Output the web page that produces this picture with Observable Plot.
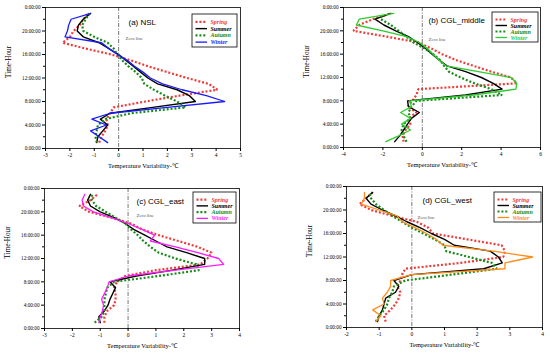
<!DOCTYPE html>
<html><head><meta charset="utf-8">
<script src="https://cdn.jsdelivr.net/npm/d3@7"></script>
<script src="https://cdn.jsdelivr.net/npm/@observablehq/plot@0.6"></script>
<style>
body{margin:0;background:#fff;}
#root{position:relative;width:550px;height:354px;overflow:hidden;background:#fff;}
#root svg{position:absolute;}
</style></head><body><div id="root"></div>
<script>
// ---- data ----
const hours = [1,2,3,4,5,6,7,8,9,10,11,12,13,14,15,16,17,18,19,20,21,22,23];
const yTicks = [0,4,8,12,16,20,24];
const yMinor = [2,6,10,14,18,22];
const seasons = ["Spring","Summer","Autumn","Winter"];
const panelTitles = ["(a) NSL","(b) CGL_middle","(c) CGL_east","(d) CGL_west"];
const xTicksA = [-3,-2,-1,0,1,2,3,4,5];
const xTicksB = [-4,-2,0,2,4,6];
const xTicksC = [-3,-2,-1,0,1,2,3,4];
const xTicksD = [-2,-1,0,1,2,3,4];

const nslSpring = [-0.8,-0.7,-0.55,-0.45,-0.5,-0.35,-0.2,1.1,2.5,4.05,3.7,2.8,2.0,1.2,0.5,-0.3,-1.35,-2.3,-2.0,-1.85,-1.6,-1.45,-1.25];
const nslSummer = [-0.9,-0.85,-0.65,-0.45,-0.75,-0.35,1.4,3.15,2.9,2.4,1.6,1.2,0.9,0.6,0.3,0.0,-0.4,-0.8,-1.45,-1.7,-1.65,-1.45,-1.15];
const nslAutumn = [-0.9,-0.95,-0.9,-0.85,-0.55,0.5,2.75,2.4,1.9,1.45,1.05,0.95,0.7,0.4,0.15,-0.05,-0.2,-0.45,-1.0,-1.45,-1.5,-1.35,-1.2];
const nslWinter = [-0.45,-0.8,-1.15,-0.5,-1.1,-0.35,2.0,4.35,3.6,2.6,1.8,1.3,1.0,0.65,0.35,-0.05,-0.4,-0.7,-2.2,-2.1,-2.05,-1.95,-1.15];

const midSpring = [-0.95,-1.0,-0.85,-0.6,-0.7,-0.3,-0.75,-0.5,-0.3,-0.2,4.8,4.5,3.5,2.6,1.7,1.0,0.45,-0.2,-1.8,-3.5,-3.2,-2.5,-1.6];
const midSummer = [-1.4,-1.15,-0.95,-0.75,-0.55,-0.15,-0.7,-0.75,2.2,4.05,3.6,3.0,2.2,1.25,0.85,0.5,0.15,-0.25,-0.7,-1.35,-1.95,-2.4,-1.6];
const midAutumn = [-0.8,-0.95,-1.05,-0.95,-0.6,-0.7,-0.55,-0.3,4.05,3.5,2.65,1.95,1.35,1.1,0.9,0.55,0.1,-0.45,-0.8,-1.2,-1.6,-2.1,-2.05];
const midWinter = [-1.85,-1.2,-0.6,-1.05,-0.6,-1.1,-0.55,-0.65,2.6,4.75,4.8,4.5,2.85,1.2,0.85,0.55,0.25,-0.15,-0.8,-2.0,-3.35,-3.2,-1.45];

const eastSpring = [-0.85,-0.85,-0.75,-0.5,-0.45,-0.45,-0.5,-0.4,-0.1,1.0,2.6,2.85,3.0,2.5,1.8,1.1,0.5,0.1,-0.6,-1.4,-1.75,-1.35,-1.1];
const eastSummer = [-1.0,-1.05,-0.85,-0.72,-0.65,-0.55,-0.45,-0.65,0.3,1.6,2.75,2.75,2.1,1.4,1.0,0.6,0.2,-0.1,-0.5,-1.0,-1.35,-1.45,-1.35];
const eastAutumn = [-1.2,-0.95,-0.85,-0.85,-0.85,-0.8,-0.75,-0.5,1.1,2.55,2.45,1.7,1.1,0.8,0.55,0.35,0.1,-0.1,-0.45,-0.8,-1.15,-1.3,-1.3];
const eastWinter = [-1.05,-1.0,-0.92,-0.88,-0.95,-0.85,-0.75,-0.68,0.0,1.7,3.43,3.25,2.5,1.7,0.8,0.95,0.5,0.0,-0.6,-1.25,-1.6,-1.65,-1.55];

const westSpring = [-0.8,-0.85,-0.65,-0.5,-0.4,-0.35,-0.45,-0.35,-0.3,-0.2,1.5,2.8,2.85,2.75,1.7,0.65,0.5,0.15,-0.6,-1.25,-1.6,-1.4,-1.2];
const westSummer = [-1.05,-1.0,-0.9,-0.85,-0.8,-0.5,-0.4,-0.55,0.0,2.2,2.77,2.65,2.4,1.3,1.0,0.6,0.25,-0.15,-0.5,-0.9,-1.25,-1.4,-1.2];
const westAutumn = [-1.1,-1.0,-0.85,-0.75,-0.7,-0.6,-0.55,-0.2,1.2,2.6,2.45,1.75,1.05,1.0,0.7,0.35,0.0,-0.3,-0.6,-0.85,-1.1,-1.25,-1.3];
const westWinter = [-1.1,-0.95,-1.2,-0.85,-0.9,-0.75,-0.65,-0.65,0.0,2.85,2.85,3.7,2.5,0.95,0.75,0.45,0.1,-0.3,-0.45,-1.0,-1.55,-1.45,-1.45];

// ---- styles / layout ----
const springColor = "#f23a3a", summerColor = "#000000", autumnColor = "#168c16";
const winterColors = ["#1a1aff","#2ecc2e","#ff1aff","#ff8c1a"];

const panels = [
  {series:[nslSpring,nslSummer,nslAutumn,nslWinter], domain:[-3,5], ticks:xTicksA,
   left:0, top:0, mL:45, mR:35, mT:7, mB:29, titleDx:83, titleDy:12, zeroDx:80, zeroDy:29,
   legend:[191.7,14.3,45,33]},
  {series:[midSpring,midSummer,midAutumn,midWinter], domain:[-4,6], ticks:xTicksB,
   left:275, top:0, mL:68, mR:10, mT:7, mB:30, titleDx:85, titleDy:10, zeroDx:85, zeroDy:30,
   legend:[492.3,12.3,46,30]},
  {series:[eastSpring,eastSummer,eastAutumn,eastWinter], domain:[-3,4], ticks:xTicksC,
   left:0, top:177, mL:44, mR:36, mT:11, mB:26, titleDx:92, titleDy:10, zeroDx:92, zeroDy:25,
   legend:[193.3,192.3,43,31]},
  {series:[westSpring,westSummer,westAutumn,westWinter], domain:[-2,4], ticks:xTicksD,
   left:275, top:177, mL:71, mR:8, mT:9, mB:27, titleDx:76, titleDy:11, zeroDx:71, zeroDy:29,
   legend:[494.3,192.3,47,30]}
];

const root = document.getElementById("root");

panels.forEach((p, k) => {
  const colors = [springColor, summerColor, autumnColor, winterColors[k]];
  const styles = [
    {strokeWidth:2.2, strokeDasharray:"2,1.9", strokeLinecap:"butt", strokeLinejoin:"miter"},
    {strokeWidth:1.4},
    {strokeWidth:2.2, strokeDasharray:"2,1.9", strokeLinecap:"butt", strokeLinejoin:"miter"},
    {strokeWidth:1.3}
  ];
  const lines = seasons.map((s, i) => {
    const rows = hours.map((h, j) => ({season:s, hour:h, value:p.series[i][j]}));
    return Plot.line(rows, {x:"value", y:"hour", stroke:colors[i], ...styles[i]});
  });
  const chart = Plot.plot({
    width:275, height:177,
    marginLeft:p.mL, marginRight:p.mR, marginTop:p.mT, marginBottom:p.mB,
    style:{fontFamily:"'Liberation Serif', serif", fontSize:"5.5px", color:"#000", background:"transparent", overflow:"visible"},
    x:{domain:p.domain, label:null},
    y:{domain:[0,24], label:null},
    marks:[
      Plot.ruleX([0], {stroke:"#555", strokeWidth:0.8, strokeDasharray:"4,1.5,1,1.5"}),
      ...lines,
      Plot.frame({stroke:"#000", strokeWidth:0.8}),
      Plot.axisX({ticks:p.ticks, tickSize:3, tickPadding:2, fontSize:5.5, label:null,
                  tickFormat:d => String(d)}),
      Plot.axisY({ticks:yTicks, tickSize:3, tickPadding:2, fontSize:5.2, label:null,
                  tickFormat:d => `${d % 24}:00:00`}),
      Plot.axisY({ticks:yMinor, tickSize:2, label:null, tickFormat:() => ""}),
      Plot.text(["Time-Hour"], {frameAnchor:"left", rotate:-90, dx:-37, fontSize:7.2}),
      Plot.text(["Temperature Variability-\u2103"], {frameAnchor:"bottom", dy:19, fontSize:6.5}),
      Plot.text([panelTitles[k]], {frameAnchor:"top-left", dx:p.titleDx, dy:p.titleDy, textAnchor:"start",
                  fontFamily:"'Liberation Sans', Arial, sans-serif", fontSize:8}),
      Plot.text(["Zero line"], {frameAnchor:"top-left", dx:p.zeroDx, dy:p.zeroDy, textAnchor:"start",
                  fontSize:4.8, fill:"#555"})
    ]
  });
  chart.style.left = p.left + "px";
  chart.style.top = p.top + "px";
  root.appendChild(chart);

  // legend box
  const [lx, ly, lw, lh] = p.legend;
  const svg = d3.select(root).append("svg")
    .attr("width", lw + 2).attr("height", lh + 2)
    .style("left", (lx - 1) + "px").style("top", (ly - 1) + "px");
  svg.append("rect").attr("x", 1).attr("y", 1).attr("width", lw).attr("height", lh)
    .attr("fill", "#fff").attr("stroke", "#000").attr("stroke-width", 0.8);
  const rowH = (lh - 6) / 4;
  seasons.forEach((s, i) => {
    const cy = 1 + 4.5 + rowH * (i + 0.5);
    svg.append("line").attr("x1", 4.5).attr("x2", 16).attr("y1", cy).attr("y2", cy)
      .attr("stroke", colors[i]).attr("stroke-width", styles[i].strokeWidth)
      .attr("stroke-dasharray", styles[i].strokeDasharray || null);
    svg.append("text").attr("x", 19.5).attr("y", cy).attr("dy", "0.35em")
      .attr("font-family", "'Liberation Serif', serif").attr("font-style", "italic")
      .attr("font-weight", "bold").attr("font-size", 6).attr("fill", colors[i]).text(s);
  });
});
</script>
</body></html>
